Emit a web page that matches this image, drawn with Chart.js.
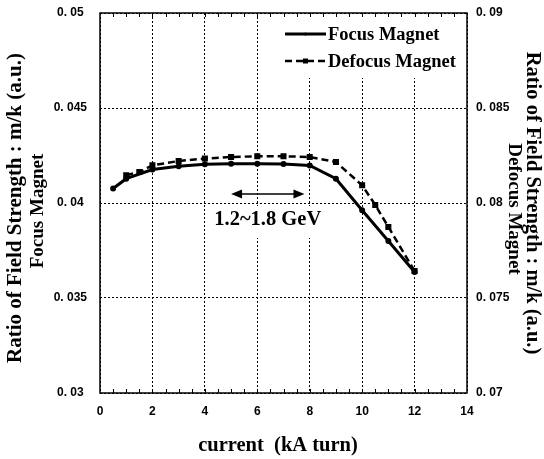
<!DOCTYPE html>
<html><head><meta charset="utf-8">
<script src="https://cdn.jsdelivr.net/npm/chart.js@4/dist/chart.umd.min.js"></script>
<style>html,body{margin:0;padding:0;background:#fff}#wrap{width:544px;height:459px;position:relative}</style>
</head><body><div id="wrap"><canvas id="c" width="544" height="459"></canvas></div>
<script>
// ---- data ----
const focusCurrent = [0.5, 1, 2, 3, 4, 5, 6, 7, 8, 9, 10, 11, 12];
const focusRatio   = [0.04076, 0.04128, 0.04176, 0.04193, 0.04204, 0.04207, 0.04207, 0.04205, 0.04198, 0.04128, 0.03962, 0.03800, 0.03637];
const defocusCurrent = [1, 1.5, 2, 3, 4, 5, 6, 7, 8, 9, 10, 10.5, 11, 12];
const defocusRatio   = [0.08146, 0.08163, 0.08198, 0.08221, 0.08234, 0.08242, 0.08246, 0.08246, 0.08242, 0.08216, 0.08093, 0.07990, 0.07874, 0.07642];
const xTickLabels = ["0", "2", "4", "6", "8", "10", "12", "14"];
const yLeftLabels = ["0. 03", "0. 035", "0. 04", "0. 045", "0. 05"];
const yRightLabels = ["0. 07", "0. 075", "0. 08", "0. 085", "0. 09"];
const seriesNames = ["Focus Magnet", "Defocus Magnet"];
const leftTitle = ["Ratio of Field Strength : m/k (a.u.)", "Focus Magnet"];
const rightTitle = ["Ratio of Field Strength : m/k (a.u.)", "Defocus Magnet"];
const xTitle = "current  (kA turn)";
const rangeNote = "1.2~1.8 GeV";
const rangeArrow = [5.0, 7.8]; // kA turn

const tickFont = {family: "'Liberation Sans', Arial, sans-serif", size: 12, weight: 'bold'};
const serif = "'Liberation Serif', 'Times New Roman', serif";

const decor = {
  id: 'decor',
  beforeDatasetsDraw(chart) {
    const ctx = chart.ctx, a = chart.chartArea;
    ctx.save();
    ctx.fillStyle = '#fff';
    ctx.fillRect(283, a.top + 1, a.right - 284, 64);
    ctx.fillRect(214, 206, 118, 32);
    ctx.restore();
  },
  afterDraw(chart) {
    const ctx = chart.ctx, a = chart.chartArea, xs = chart.scales.x;
    ctx.save();
    // frame
    ctx.strokeStyle = '#000'; ctx.lineWidth = 1.5; ctx.setLineDash([]);
    ctx.strokeRect(a.left, a.top, a.right - a.left, a.bottom - a.top);
    // minor ticks
    ctx.lineWidth = 1;
    for (let v = 0.5; v < 14; v += 0.5) {
      const px = Math.round(xs.getPixelForValue(v)) + 0.5;
      ctx.beginPath();
      ctx.moveTo(px, a.bottom); ctx.lineTo(px, a.bottom - 4);
      ctx.moveTo(px, a.top); ctx.lineTo(px, a.top + 4);
      ctx.stroke();
    }
    // legend
    const ds = chart.data.datasets;
    const lx0 = 285, lx1 = 326;
    const ly = [a.top + 21, a.top + 48];
    ds.forEach((d, i) => {
      ctx.strokeStyle = '#000';
      ctx.lineWidth = d.borderWidth;
      ctx.setLineDash(d.borderDash || []);
      ctx.beginPath(); ctx.moveTo(lx0, ly[i]); ctx.lineTo(lx1, ly[i]); ctx.stroke();
      ctx.setLineDash([]);
      ctx.fillStyle = '#000';
      const cx = (lx0 + lx1) / 2;
      if (d.pointStyle === 'rect') ctx.fillRect(cx - d.pointRadius, ly[i] - d.pointRadius, d.pointRadius * 2, d.pointRadius * 2);
      else { ctx.beginPath(); ctx.arc(cx, ly[i], d.pointRadius, 0, Math.PI * 2); ctx.fill(); }
      ctx.font = 'bold 18.5px ' + serif;
      ctx.textAlign = 'left'; ctx.textBaseline = 'middle';
      ctx.fillText(d.label, lx1 + 2, ly[i] + 1);
    });
    // range arrow + note
    const ax0 = xs.getPixelForValue(rangeArrow[0]), ax1 = xs.getPixelForValue(rangeArrow[1]);
    const ay = 194;
    ctx.strokeStyle = '#000'; ctx.lineWidth = 1.5;
    ctx.beginPath(); ctx.moveTo(ax0 + 6, ay); ctx.lineTo(ax1 - 6, ay); ctx.stroke();
    ctx.beginPath();
    ctx.moveTo(ax0, ay); ctx.lineTo(ax0 + 11, ay - 4.5); ctx.lineTo(ax0 + 11, ay + 4.5); ctx.closePath();
    ctx.moveTo(ax1, ay); ctx.lineTo(ax1 - 11, ay - 4.5); ctx.lineTo(ax1 - 11, ay + 4.5); ctx.closePath();
    ctx.fill();
    ctx.font = 'bold 20.5px ' + serif;
    ctx.textAlign = 'center'; ctx.textBaseline = 'middle';
    ctx.fillText(rangeNote, (ax0 + ax1) / 2, 220);
    // axis titles
    ctx.font = 'bold 21px ' + serif;
    ctx.save(); ctx.translate(16, 208); ctx.rotate(-Math.PI / 2); ctx.fillText(leftTitle[0], 0, 0); ctx.restore();
    ctx.font = 'bold 19px ' + serif;
    ctx.save(); ctx.translate(38, 211); ctx.rotate(-Math.PI / 2); ctx.fillText(leftTitle[1], 0, 0); ctx.restore();
    ctx.font = 'bold 20.5px ' + serif;
    ctx.save(); ctx.translate(532, 203); ctx.rotate(Math.PI / 2); ctx.fillText(rightTitle[0], 0, 0); ctx.restore();
    ctx.font = 'bold 19px ' + serif;
    ctx.save(); ctx.translate(514, 209); ctx.rotate(Math.PI / 2); ctx.fillText(rightTitle[1], 0, 0); ctx.restore();
    ctx.font = 'bold 20.5px ' + serif;
    ctx.fillText(xTitle, 278, 446);
    ctx.restore();
  }
};

const noPadV = s => { s.paddingTop = 0; s.paddingBottom = 0; };

new Chart(document.getElementById('c'), {
  type: 'line',
  data: {
    datasets: [
      {label: seriesNames[0], data: focusCurrent.map((x, i) => ({x, y: focusRatio[i]})), yAxisID: 'y',
       borderColor: '#000', backgroundColor: '#000', borderWidth: 3, pointRadius: 1.5, pointStyle: 'circle', tension: 0},
      {label: seriesNames[1], data: defocusCurrent.map((x, i) => ({x, y: defocusRatio[i]})), yAxisID: 'y2',
       borderColor: '#000', backgroundColor: '#000', borderWidth: 2.5, borderDash: [7, 4], pointRadius: 2.5, pointStyle: 'rect', tension: 0}
    ]
  },
  options: {
    responsive: false, devicePixelRatio: 1, animation: false,
    layout: {padding: {top: 13, left: 0, right: 0, bottom: 0}},
    plugins: {legend: {display: false}, tooltip: {enabled: false}},
    scales: {
      x: {type: 'linear', min: 0, max: 14,
          ticks: {stepSize: 2, color: '#000', font: tickFont, padding: 11, maxRotation: 0,
                  callback: (v) => xTickLabels[Math.round(v / 2)]},
          grid: {color: '#000', lineWidth: 1, drawTicks: false, borderDash: [2, 2]},
          border: {display: false, dash: [2, 2]},
          afterFit: s => { s.height = 66; s.paddingLeft = 0; s.paddingRight = 0; }},
      y: {position: 'left', min: 0.03, max: 0.05,
          ticks: {stepSize: 0.005, color: '#000', font: tickFont, padding: 13, crossAlign: 'center',
                  callback: (v, i) => yLeftLabels[i]},
          grid: {color: '#000', lineWidth: 1, drawTicks: false, borderDash: [2, 2]},
          border: {display: false, dash: [2, 2]},
          afterFit: s => { s.width = 100; noPadV(s); }},
      y2: {position: 'right', min: 0.07, max: 0.09,
          ticks: {stepSize: 0.005, color: '#000', font: tickFont, padding: 9,
                  callback: (v, i) => yRightLabels[i]},
          grid: {display: false, drawTicks: false},
          border: {display: false},
          afterFit: s => { s.width = 77; noPadV(s); }}
    }
  },
  plugins: [decor]
});
</script>
</body></html>
